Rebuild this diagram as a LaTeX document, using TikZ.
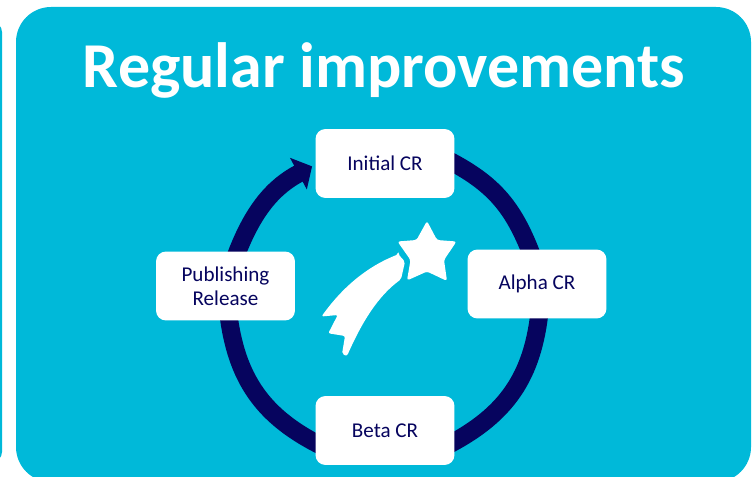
\documentclass[tikz,border=0pt]{standalone}
\usepackage{fontspec}
\setmainfont{Carlito}
\usetikzlibrary{arrows.meta, backgrounds}
\definecolor{panelblue}{HTML}{00B9D9}
\definecolor{ringnavy}{HTML}{06045E}
\tikzset{
  stagebox/.style={fill=white, rounded corners=0.2cm, minimum width=2.78cm, minimum height=1.38cm,
    align=center, text=ringnavy, font=\fontsize{12}{13.5}\selectfont},
  ringline/.style={draw=ringnavy, line width=0.36cm}
}
\begin{document}
\begin{tikzpicture}[x=0.02cm, y=-0.02cm]
\useasboundingbox (0, 0) rectangle (756, 476);
\clip (0, 0) rectangle (756, 476);
\node[text=white, font=\fontsize{36.4}{40}\selectfont\bfseries] (title) at (384, 70) {Regular improvements};

\node[stagebox] (initial) at (385, 163.5) {Initial CR};
\node[stagebox] (alpha) at (537, 284) {Alpha CR};
\node[stagebox] (beta) at (385, 430.5) {Beta CR};
\node[stagebox] (publishing) at (225.5, 286) {Publishing\\Release};

\begin{scope}[on background layer]
\fill[panelblue, rounded corners=0.2cm] (-60, 22) rectangle (2, 462);
\fill[panelblue, rounded corners=0.7cm] (16, 7) rectangle (751, 482);
\draw[ringline, shorten <=-0.2cm, shorten >=-0.2cm] (initial.-0.8) to[out=-27.1, in=110.5] (alpha.102.1);
\draw[ringline, shorten <=-0.2cm, shorten >=-0.2cm] (alpha.-87.9) to[out=-95.7, in=27.1] (beta.-9.4);
\draw[ringline, shorten <=-0.2cm, shorten >=-0.2cm] (beta.190.6) to[out=154.1, in=-83.5] (publishing.-84.5);
\draw[ringline, shorten <=-0.2cm, shorten >=0.07cm, -{Triangle[length=0.31cm, width=0.7cm]}] (publishing.71.8) to[out=70.3, in=208] (initial.181.2);
\end{scope}

% star
\fill[white, rounded corners=0.05cm] (427, 221) -- (437, 240) -- (456.5, 241.5) -- (444, 260) -- (447, 281)
  -- (427, 271.5) -- (407, 280.5) -- (410.5, 260) -- (397.5, 241.5) -- (416.5, 240) -- cycle;
% tail
\fill[white, rounded corners=0.04cm] (398.3, 254.3) -- (405, 261.7) -- (401, 279.3)
  .. controls (378, 296) and (362, 322) .. (347, 356) -- (342, 354) -- (345, 336) -- (328.3, 333.3)
  -- (337.7, 315) -- (321.5, 316.5) .. controls (342, 288) and (366, 267) .. (398.3, 254.3) -- cycle;
\end{tikzpicture}
\end{document}
